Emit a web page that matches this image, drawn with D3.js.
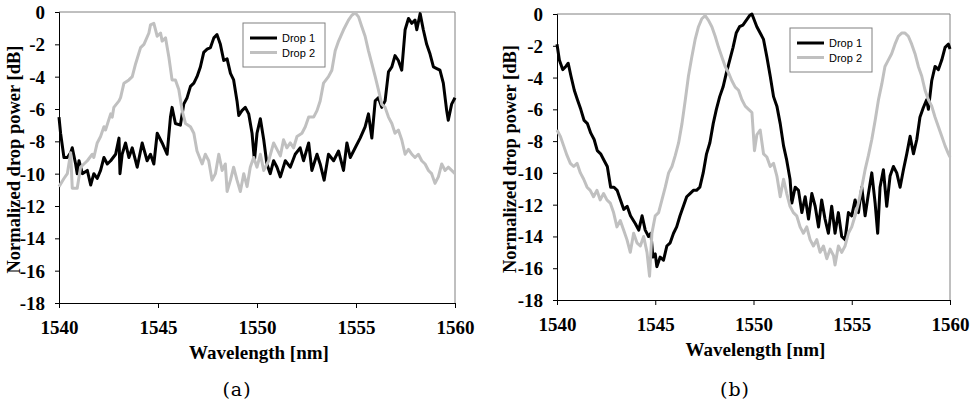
<!DOCTYPE html>
<html><head><meta charset="utf-8">
<script src="https://cdn.jsdelivr.net/npm/d3@7"></script>
<style>body{margin:0;background:#fff}svg{display:block}</style>
</head><body>
<svg id="chart" width="977" height="406"></svg>
<script>
// ---------- data ----------
const xTicks = [1540, 1545, 1550, 1555, 1560];
const yTicks = [0, -2, -4, -6, -8, -10, -12, -14, -16, -18];
const seriesNames = ["Drop 1", "Drop 2"];
const panelLabels = ["(a)", "(b)"];
const xTitle = "Wavelength [nm]";
const yTitle = "Normalized drop power [dB]";

// panel (a) Drop 1
const wlA1 = [1540.00,1540.08,1540.25,1540.42,1540.59,1540.67,1540.84,1540.92,1541.01,1541.18,1541.43,1541.60,1541.76,1541.93,1542.10,1542.27,1542.44,1542.61,1542.86,1543.03,1543.08,1543.19,1543.36,1543.53,1543.70,1543.95,1544.20,1544.45,1544.62,1544.79,1544.96,1545.21,1545.46,1545.63,1545.71,1545.88,1546.13,1546.30,1546.47,1546.64,1546.81,1546.97,1547.14,1547.31,1547.48,1547.65,1547.82,1547.98,1548.15,1548.32,1548.49,1548.66,1548.82,1548.99,1549.08,1549.24,1549.41,1549.58,1549.75,1549.87,1550.00,1550.17,1550.34,1550.50,1550.67,1550.84,1551.01,1551.18,1551.43,1551.68,1551.93,1552.18,1552.35,1552.61,1552.77,1553.03,1553.19,1553.39,1553.61,1553.87,1554.12,1554.37,1554.54,1554.71,1554.96,1555.21,1555.46,1555.63,1555.80,1555.97,1556.13,1556.30,1556.47,1556.64,1556.81,1556.97,1557.14,1557.31,1557.48,1557.65,1557.82,1557.98,1558.07,1558.24,1558.40,1558.57,1558.74,1558.91,1559.08,1559.24,1559.41,1559.58,1559.66,1559.83,1560.00];
const dbA1 = [-6.5,-7.5,-9.0,-9.0,-8.7,-8.4,-9.4,-10.0,-9.2,-10.0,-9.8,-10.7,-10.0,-10.3,-9.8,-9.0,-9.4,-9.2,-8.8,-7.8,-10.0,-8.8,-8.1,-9.0,-8.4,-9.6,-8.1,-9.2,-8.8,-9.4,-7.5,-8.1,-8.8,-6.5,-5.9,-6.9,-7.0,-5.7,-5.3,-4.6,-4.4,-4.0,-3.4,-2.5,-2.3,-2.2,-1.6,-1.4,-2.0,-3.0,-2.9,-3.8,-4.2,-5.5,-6.4,-6.1,-5.9,-6.3,-7.5,-9.2,-7.5,-6.6,-7.9,-9.4,-10.0,-9.2,-9.6,-10.2,-9.2,-9.6,-8.8,-8.4,-9.2,-8.1,-9.8,-8.8,-9.4,-10.4,-8.8,-9.2,-8.6,-9.8,-8.1,-9.0,-8.4,-7.8,-7.1,-6.3,-7.8,-5.5,-5.3,-5.9,-5.5,-3.7,-3.4,-2.7,-3.0,-3.6,-1.1,-0.4,-0.7,-0.5,-1.1,-0.1,-1.1,-2.0,-2.6,-3.4,-3.5,-3.6,-4.4,-6.1,-6.7,-5.7,-5.3];

// panel (a) Drop 2
const wlA2 = [1540.00,1540.25,1540.42,1540.59,1540.67,1540.92,1541.09,1541.26,1541.43,1541.68,1541.76,1541.93,1542.10,1542.27,1542.35,1542.61,1542.69,1542.77,1543.03,1543.11,1543.28,1543.53,1543.70,1543.87,1544.12,1544.29,1544.54,1544.62,1544.79,1544.96,1545.13,1545.21,1545.38,1545.55,1545.71,1545.88,1546.05,1546.22,1546.39,1546.64,1546.81,1546.97,1547.23,1547.39,1547.56,1547.73,1547.90,1548.07,1548.24,1548.40,1548.49,1548.66,1548.82,1548.99,1549.16,1549.33,1549.50,1549.66,1549.83,1550.00,1550.17,1550.34,1550.59,1550.84,1551.01,1551.18,1551.34,1551.51,1551.68,1551.85,1552.02,1552.27,1552.44,1552.61,1552.86,1553.03,1553.19,1553.36,1553.61,1553.78,1553.95,1554.12,1554.37,1554.62,1554.79,1554.96,1555.13,1555.29,1555.46,1555.63,1555.80,1555.97,1556.13,1556.30,1556.47,1556.64,1556.81,1556.97,1557.14,1557.31,1557.48,1557.65,1557.82,1557.98,1558.15,1558.32,1558.49,1558.66,1558.82,1558.99,1559.16,1559.33,1559.50,1559.66,1559.83,1560.00];
const dbA2 = [-10.8,-10.3,-10.0,-8.7,-10.9,-10.9,-9.6,-9.4,-9.2,-8.8,-9.0,-8.1,-7.7,-7.1,-7.3,-6.3,-6.5,-5.9,-5.5,-5.3,-4.4,-4.2,-4.0,-3.2,-2.2,-2.0,-1.3,-0.8,-0.7,-1.5,-1.3,-1.8,-1.6,-2.8,-4.2,-4.2,-4.8,-6.1,-6.9,-7.1,-7.5,-8.6,-9.4,-8.8,-9.2,-10.4,-10.0,-8.8,-9.8,-9.4,-11.1,-10.4,-9.6,-10.4,-11.1,-10.0,-10.8,-9.6,-9.0,-9.6,-8.8,-9.8,-9.2,-8.1,-8.5,-8.9,-7.9,-8.4,-8.1,-8.4,-7.7,-7.5,-7.1,-6.5,-6.5,-6.1,-5.5,-4.4,-4.0,-3.6,-2.4,-1.8,-1.1,-0.5,-0.2,-0.05,-0.3,-0.9,-1.5,-2.4,-3.2,-4.0,-4.8,-5.7,-5.9,-6.5,-6.9,-7.5,-7.3,-7.9,-8.8,-8.5,-8.8,-9.0,-8.8,-9.2,-9.4,-9.8,-10.0,-10.6,-10.2,-9.4,-9.8,-9.6,-9.8,-10.0];

// panel (b) Drop 1
const wlB1 = [1540.00,1540.12,1540.29,1540.45,1540.57,1540.71,1540.88,1541.04,1541.21,1541.38,1541.55,1541.72,1541.89,1542.05,1542.22,1542.39,1542.56,1542.73,1542.90,1543.06,1543.23,1543.40,1543.57,1543.74,1543.99,1544.16,1544.33,1544.49,1544.66,1544.78,1544.88,1545.00,1545.08,1545.25,1545.42,1545.59,1545.76,1545.93,1546.09,1546.26,1546.43,1546.60,1546.77,1546.94,1547.10,1547.27,1547.44,1547.61,1547.78,1547.95,1548.11,1548.28,1548.45,1548.62,1548.79,1548.96,1549.12,1549.29,1549.46,1549.63,1549.80,1549.92,1550.17,1550.34,1550.51,1550.68,1550.85,1551.02,1551.19,1551.36,1551.53,1551.69,1551.86,1551.95,1552.12,1552.29,1552.46,1552.63,1552.80,1552.97,1553.14,1553.31,1553.47,1553.64,1553.81,1553.98,1554.15,1554.32,1554.49,1554.66,1554.83,1555.00,1555.17,1555.34,1555.51,1555.68,1555.85,1556.02,1556.19,1556.32,1556.44,1556.61,1556.78,1556.95,1557.12,1557.29,1557.46,1557.63,1557.80,1557.97,1558.14,1558.31,1558.47,1558.64,1558.81,1558.90,1559.07,1559.24,1559.41,1559.58,1559.75,1559.92,1560.00];
const dbB1 = [-1.9,-2.9,-3.5,-3.3,-3.1,-3.9,-4.8,-5.4,-6.0,-6.7,-6.9,-7.5,-7.9,-8.6,-8.8,-9.2,-9.6,-10.9,-10.9,-11.1,-11.7,-12.3,-12.1,-12.7,-13.2,-13.6,-12.7,-13.6,-14.0,-13.8,-15.3,-15.1,-15.9,-15.3,-15.5,-14.6,-14.4,-13.8,-13.4,-12.7,-12.1,-11.5,-11.3,-11.1,-11.1,-10.9,-10.0,-8.8,-8.1,-6.9,-6.0,-5.2,-4.6,-3.7,-2.9,-2.1,-1.2,-0.8,-0.7,-0.4,-0.1,0.0,-0.8,-1.2,-1.6,-2.7,-3.9,-5.2,-5.8,-6.9,-8.3,-9.2,-10.4,-11.9,-10.9,-11.1,-12.5,-11.5,-12.9,-11.3,-12.1,-13.4,-11.7,-12.9,-13.8,-12.1,-13.8,-12.5,-14.0,-14.2,-12.5,-12.7,-11.7,-12.5,-10.9,-12.7,-11.3,-10.0,-11.9,-13.8,-10.9,-9.8,-12.1,-10.2,-9.6,-10.0,-10.9,-9.8,-8.8,-7.7,-8.8,-7.9,-6.5,-5.9,-5.4,-6.0,-4.2,-3.3,-3.5,-2.9,-2.1,-1.9,-2.2];

// panel (b) Drop 2
const wlB2 = [1540.00,1540.17,1540.34,1540.51,1540.68,1540.85,1541.02,1541.19,1541.36,1541.53,1541.69,1541.86,1542.03,1542.20,1542.37,1542.54,1542.71,1542.88,1543.05,1543.22,1543.39,1543.56,1543.73,1543.90,1544.07,1544.24,1544.41,1544.58,1544.71,1544.83,1545.00,1545.17,1545.34,1545.51,1545.68,1545.85,1546.02,1546.19,1546.36,1546.53,1546.69,1546.86,1547.03,1547.20,1547.37,1547.54,1547.71,1547.88,1548.05,1548.22,1548.39,1548.56,1548.73,1548.90,1549.07,1549.24,1549.41,1549.58,1549.75,1549.92,1550.05,1550.17,1550.34,1550.51,1550.68,1550.85,1551.02,1551.19,1551.36,1551.53,1551.69,1551.86,1552.03,1552.20,1552.37,1552.54,1552.71,1552.88,1553.05,1553.22,1553.39,1553.56,1553.73,1553.90,1554.07,1554.15,1554.32,1554.49,1554.66,1554.83,1555.00,1555.17,1555.34,1555.51,1555.68,1555.85,1556.02,1556.19,1556.36,1556.53,1556.69,1556.86,1557.03,1557.20,1557.37,1557.54,1557.71,1557.88,1558.05,1558.22,1558.39,1558.56,1558.73,1558.90,1559.07,1559.24,1559.41,1559.58,1559.75,1559.92,1560.00];
const dbB2 = [-7.3,-7.7,-8.3,-8.9,-9.4,-9.6,-9.4,-10.0,-10.4,-10.9,-11.1,-11.5,-11.1,-11.7,-11.3,-11.7,-11.9,-12.5,-13.4,-13.0,-13.6,-14.2,-15.0,-13.8,-14.4,-14.6,-14.0,-15.0,-16.5,-13.8,-12.7,-12.5,-11.7,-10.9,-10.0,-9.6,-8.9,-8.1,-6.9,-5.4,-3.9,-2.7,-1.6,-0.8,-0.3,-0.1,-0.4,-0.8,-1.4,-2.1,-2.7,-3.3,-3.7,-4.2,-4.6,-4.8,-5.4,-5.8,-6.0,-6.2,-8.6,-7.6,-7.3,-8.8,-9.0,-9.6,-9.4,-10.2,-11.5,-10.4,-11.3,-12.1,-12.5,-12.7,-13.4,-13.8,-13.4,-14.2,-14.6,-14.2,-15.0,-14.6,-15.4,-14.8,-15.2,-15.8,-14.6,-15.0,-14.6,-13.8,-13.4,-12.7,-11.9,-10.9,-9.8,-8.9,-7.9,-6.7,-5.4,-4.4,-3.3,-2.9,-2.5,-1.9,-1.4,-1.2,-1.2,-1.4,-1.9,-2.5,-3.3,-3.9,-4.8,-5.4,-5.8,-6.5,-7.1,-7.7,-8.3,-8.8,-9.0];

// ---------- layout ----------
const panels = [
  {x0: 59, x1: 455, y0: 12, y1: 303, legX: 243, legY: 23, labelX: 237, yTitleX: 20, series: [[wlA1, dbA1], [wlA2, dbA2]]},
  {x0: 557, x1: 950, y0: 14, y1: 300, legX: 790, legY: 28, labelX: 735, yTitleX: 516, series: [[wlB1, dbB1], [wlB2, dbB2]]}
];
const colors = ["#000000", "#c0c0c0"];
const svg = d3.select("#chart");
const serif = "Liberation Serif, Times New Roman, serif";

panels.forEach((p, pi) => {
  const x = d3.scaleLinear().domain([xTicks[0], xTicks[xTicks.length - 1]]).range([p.x0, p.x1]);
  const y = d3.scaleLinear().domain([d3.min(yTicks), d3.max(yTicks)]).range([p.y1, p.y0]);
  const g = svg.append("g");

  // frame (top/right)
  g.append("path")
    .attr("d", `M${p.x0},${p.y0}H${p.x1}V${p.y1}`)
    .attr("fill", "none").attr("stroke", "#808080").attr("stroke-width", 1);

  // y axis
  const ya = g.append("g").attr("transform", `translate(${p.x0},0)`)
    .call(d3.axisLeft(y).tickValues(yTicks).tickSize(4).tickPadding(10).tickFormat(d => String(d)));
  ya.select(".domain").attr("stroke", "#000");
  ya.selectAll("text").style("font-family", serif).style("font-weight", "bold").style("font-size", "19px").attr("fill", "#000").attr("dy", "0.34em");

  // x axis
  const xa = g.append("g").attr("transform", `translate(0,${p.y1})`)
    .call(d3.axisBottom(x).tickValues(xTicks).tickSize(5).tickFormat(d => String(d)));
  xa.select(".domain").attr("stroke", "#000");
  xa.selectAll("text").style("font-family", serif).style("font-weight", "bold").style("font-size", "19px").attr("fill", "#000")
    .attr("y", 31).attr("dy", 0);

  // series
  const line = d3.line().x(d => x(d[0])).y(d => y(d[1]));
  p.series.forEach((s, si) => {
    const pts = s[0].map((w, i) => [w, s[1][i]]);
    g.append("path").datum(pts).attr("d", line)
      .attr("fill", "none").attr("stroke", colors[si]).attr("stroke-width", 3)
      .attr("stroke-linejoin", "round").attr("stroke-linecap", "butt");
  });

  // titles
  g.append("text").text(xTitle)
    .attr("x", (p.x0 + p.x1) / 2 + 2).attr("y", p.y1 + 56)
    .attr("text-anchor", "middle").style("font-family", serif).style("font-weight", "bold").style("font-size", "19px");
  g.append("text").text(yTitle)
    .attr("transform", `translate(${p.yTitleX},${(p.y0 + p.y1) / 2 + 2}) rotate(-90)`)
    .attr("text-anchor", "middle").style("font-family", serif).style("font-weight", "bold").style("font-size", "18.5px");
  g.append("text").text(panelLabels[pi])
    .attr("x", p.labelX).attr("y", 396)
    .attr("text-anchor", "middle").style("font-family", "DejaVu Serif, serif").style("font-size", "19px")
    .style("letter-spacing", "1px");

  // legend
  const lg = g.append("g").attr("transform", `translate(${p.legX},${p.legY})`);
  lg.append("rect").attr("width", 82).attr("height", 44).attr("fill", "#fff").attr("stroke", "#808080").attr("stroke-width", 1);
  seriesNames.forEach((n, i) => {
    const ly = 15 + i * 14.5;
    lg.append("line").attr("x1", 7).attr("x2", 34).attr("y1", ly).attr("y2", ly)
      .attr("stroke", colors[i]).attr("stroke-width", 3);
    lg.append("text").text(n).attr("x", 39).attr("y", ly + 4)
      .style("font-family", "Liberation Sans, Arial, sans-serif").style("font-size", "11px").attr("fill", "#000");
  });
});
</script>
</body></html>
